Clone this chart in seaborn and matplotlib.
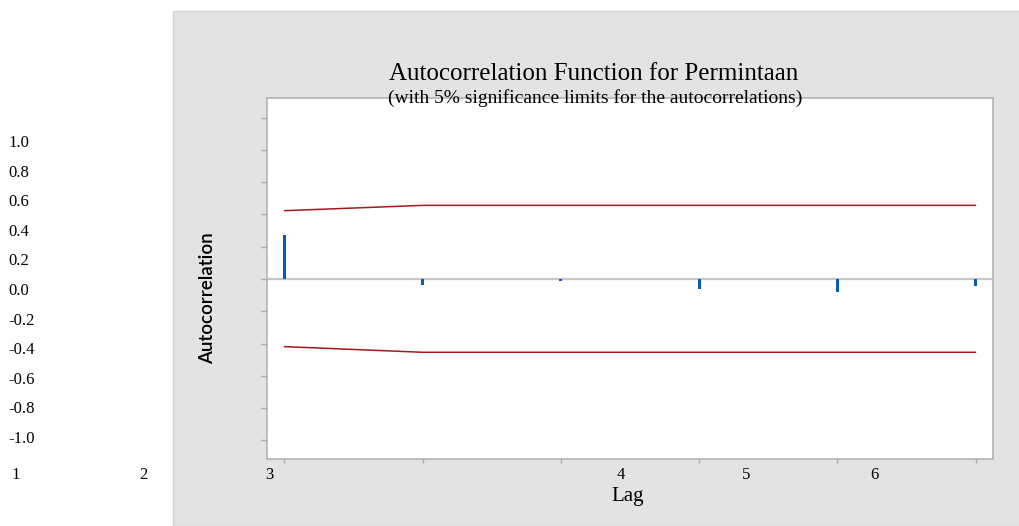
import numpy as np
import pandas as pd
import seaborn as sns
import matplotlib.pyplot as plt
from matplotlib.patches import Rectangle

# ACF values
lags = [1, 2, 3, 4, 5, 6]
acf = [0.27, -0.04, -0.01, -0.064, -0.082, -0.041]
upper = [0.423, 0.456, 0.456, 0.456, 0.456, 0.456]
lower = [-0.419, -0.454, -0.454, -0.454, -0.454, -0.454]
yticks = [1.0, 0.8, 0.6, 0.4, 0.2, 0.0, -0.2, -0.4, -0.6, -0.8, -1.0]
ytick_labels = ['1.0', '0.8', '0.6', '0.4', '0.2', '0.0', '-0.2', '-0.4', '-0.6', '-0.8', '-1.0']
xtick_labels = ['1', '2', '3', '4', '5', '6']

df = pd.DataFrame({'lag': lags, 'acf': acf, 'upper': upper, 'lower': lower})

sns.set_style('white')
plt.rcParams['font.family'] = ['Liberation Serif', 'DejaVu Serif']
plt.rcParams['text.color'] = 'black'

W, H = 1020, 526
fig = plt.figure(figsize=(W / 100, H / 100), dpi=100)
fig.patch.set_facecolor('white')

# gray panel behind the plot (zorder below the axes)
fig.patches.append(Rectangle((173 / W, 0), 1 - 173 / W, 1 - 11 / H, transform=fig.transFigure,
                             facecolor='#e3e3e3', edgecolor='#d2d2d2', lw=1, zorder=-5))

ax = fig.add_axes([267 / W, (H - 459) / H, (993 - 267) / W, (459 - 98) / H])
ax.set_facecolor('white')

ax.axhline(0, color='#c8c8c8', lw=1.6, zorder=1)
sns.barplot(data=df, x='lag', y='acf', native_scale=True, width=0.022,
            color='#0b5cb0', saturation=1, linewidth=0, ax=ax, zorder=3)
sns.lineplot(data=df, x='lag', y='upper', color='#a3191d', lw=1.1, ax=ax, zorder=2)
sns.lineplot(data=df, x='lag', y='lower', color='#a3191d', lw=1.1, ax=ax, zorder=2)

ax.set_xlim(0.874, 6.126)
ax.set_ylim(-1.115, 1.121)
ax.set_xticks(lags)
ax.set_xticklabels([])
ax.set_yticks(yticks)
ax.set_yticklabels([])
ax.tick_params(axis='y', direction='out', length=4.5, width=1, color='#a8a8a8', left=True)
ax.tick_params(axis='x', direction='out', length=3, width=1, color='#a8a8a8', bottom=True)
ax.set_xlabel('')
ax.set_ylabel('')
for s in ax.spines.values():
    s.set_color('#b4b4b4')
    s.set_linewidth(1.2)

# the tick labels sit off to the left / bottom as in the reference
for i, lab in enumerate(ytick_labels):
    fig.text(8 / W, 1 - (143 + 29.6 * i) / H, lab, ha='left', va='center', fontsize=12)
for xp, lab in zip([11, 139, 265, 617, 742, 870], xtick_labels):
    fig.text(xp / W, 1 - 475 / H, lab, ha='left', va='center', fontsize=12)

fig.text(594 / W, 1 - 74 / H, 'Autocorrelation Function for Permintaan',
         ha='center', va='center', fontsize=18)
fig.text(595 / W, 1 - 98 / H, '(with 5% significance limits for the autocorrelations)',
         ha='center', va='center', fontsize=14)
fig.text(628 / W, 1 - 496 / H, 'Lag', ha='center', va='center', fontsize=15)
fig.text(208 / W, 1 - 298 / H, 'Autocorrelation', ha='center', va='center', rotation=90,
         fontsize=13.5, fontweight='semibold', family=['Lato', 'DejaVu Sans'])

fig.savefig('out.png', dpi=100)
